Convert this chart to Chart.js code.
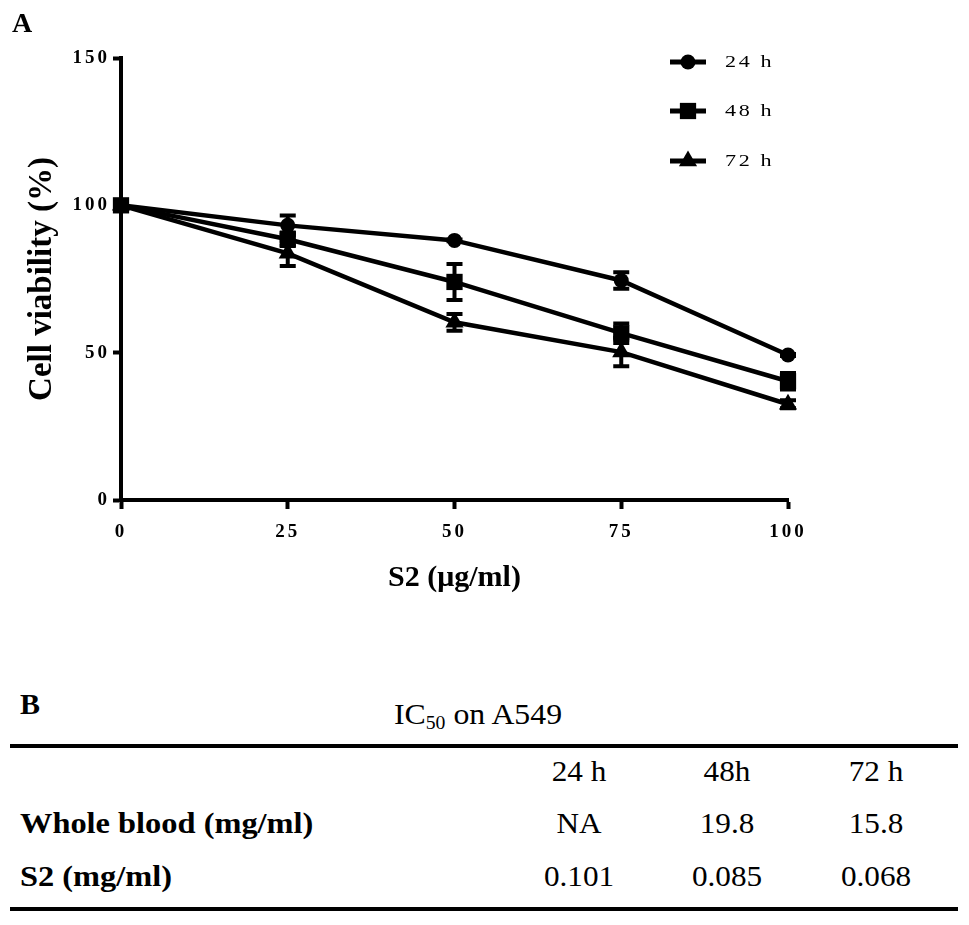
<!DOCTYPE html>
<html><head><meta charset="utf-8">
<script src="https://cdn.jsdelivr.net/npm/chart.js@4"></script>
<style>
html,body{margin:0;padding:0;background:#fff;}
#wrap{position:relative;width:969px;height:925px;overflow:hidden;font-family:'Liberation Serif','Times New Roman',serif;color:#000;}
canvas{position:absolute;left:0;top:0;}
.t{position:absolute;white-space:nowrap;line-height:1;}
.rule{position:absolute;left:10px;width:948px;height:4px;background:#000;}
sub{font-size:62%;vertical-align:baseline;position:relative;top:0.25em;}
</style></head>
<body><div id="wrap"><canvas id="c" width="969" height="640"></canvas></div>
<script>
// ---- Panel A data ----
const doses = [0, 25, 50, 75, 100];
const seriesLabels = ['24 h', '48 h', '72 h'];
const viability24 = [100, 93.2, 88.1, 74.5, 49.2];
const viability48 = [100, 88.5, 74.0, 56.6, 40.3];
const viability72 = [100, 83.7, 60.3, 50.2, 32.5];
const sem24 = [0, 4.0, 1.0, 3.5, 1.0];
const sem48 = [0, 3.0, 6.8, 4.0, 3.5];
const sem72 = [0, 5.0, 3.5, 5.5, 2.0];
const xTicks = [0, 25, 50, 75, 100];
const yTicks = [0, 50, 100, 150];
const markerStyles = ['circle', 'rect', 'triangle'];

// ---- Panel B data ----
const tableTitle = 'IC<sub>50</sub> on A549';
const tableCols = ['24 h', '48h', '72 h'];
const tableRowLabels = ['Whole blood (mg/ml)', 'S2 (mg/ml)'];
const wholeBloodIC50 = ['NA', '19.8', '15.8'];
const s2IC50 = ['0.101', '0.085', '0.068'];

const allValues = [viability24, viability48, viability72];
const allErr = [sem24, sem48, sem72];
const radii = {circle: 7.5, rect: 11.5, triangle: 10.5};

function drawMarker(ctx, style, x, y) {
  const r = radii[style];
  ctx.beginPath();
  if (style === 'circle') ctx.arc(x, y, r, 0, Math.PI * 2);
  else if (style === 'rect') { const s = r * Math.SQRT1_2; ctx.rect(x - s, y - s, 2 * s, 2 * s); }
  else {
    let a = 0;
    ctx.moveTo(x + Math.sin(a) * r, y - Math.cos(a) * r);
    a += 2 * Math.PI / 3; ctx.lineTo(x + Math.sin(a) * r, y - Math.cos(a) * r);
    a += 2 * Math.PI / 3; ctx.lineTo(x + Math.sin(a) * r, y - Math.cos(a) * r);
    ctx.closePath();
  }
  ctx.fill();
}

const figPlugin = {
  id: 'fig',
  beforeDraw(chart) { chart.ctx.letterSpacing = '0px'; },
  afterDatasetsDraw(chart) {
    const ctx = chart.ctx, xs = chart.scales.x, ys = chart.scales.y;
    ctx.save();
    ctx.strokeStyle = '#000'; ctx.lineWidth = 4; ctx.lineCap = 'butt';
    allValues.forEach((vals, si) => {
      vals.forEach((v, i) => {
        const e = allErr[si][i];
        if (!e) return;
        const px = xs.getPixelForValue(doses[i]);
        const t = ys.getPixelForValue(v + e), b = ys.getPixelForValue(v - e);
        ctx.beginPath();
        ctx.moveTo(px, t); ctx.lineTo(px, b);
        ctx.moveTo(px - 8, t + 2); ctx.lineTo(px + 8, t + 2);
        ctx.moveTo(px - 8, b - 2); ctx.lineTo(px + 8, b - 2);
        ctx.stroke();
      });
    });
    ctx.restore();
    ctx.letterSpacing = '3px';
  },
  afterDraw(chart) {
    const ctx = chart.ctx;
    ctx.save();
    ctx.fillStyle = '#000'; ctx.strokeStyle = '#000';
    const ly = [62, 111, 161];
    seriesLabels.forEach((lab, i) => {
      ctx.lineWidth = 5;
      ctx.beginPath(); ctx.moveTo(670, ly[i]); ctx.lineTo(706, ly[i]); ctx.stroke();
      drawMarker(ctx, markerStyles[i], 688, ly[i]);
      ctx.save();
      ctx.letterSpacing = '2px';
      ctx.font = '17px "Liberation Serif"';
      ctx.textBaseline = 'middle'; ctx.textAlign = 'left';
      ctx.translate(725, ly[i] + 1); ctx.scale(1.3, 1);
      ctx.fillText(lab, 0, 0);
      ctx.restore();
    });
    ctx.letterSpacing = '0px';
    ctx.font = 'bold 28px "Liberation Serif"';
    ctx.textBaseline = 'middle'; ctx.textAlign = 'left';
    ctx.fillText('A', 12, 25);
    ctx.restore();
    ctx.letterSpacing = '0px';
  }
};

const datasets = allValues.map((vals, i) => ({
  label: seriesLabels[i],
  data: vals.map((v, j) => ({x: doses[j], y: v})),
  borderColor: '#000', backgroundColor: '#000', borderWidth: 4.5,
  pointStyle: markerStyles[i], pointRadius: radii[markerStyles[i]],
  pointBorderWidth: 0, pointBackgroundColor: '#000', tension: 0, clip: false
}));

new Chart(document.getElementById('c'), {
  type: 'line',
  data: {datasets},
  options: {
    responsive: false, animation: false, devicePixelRatio: 1,
    layout: {padding: {left: 0, right: 181, top: 58, bottom: 0}},
    plugins: {legend: {display: false}, tooltip: {enabled: false}},
    scales: {
      x: {
        type: 'linear', min: 0, max: 100,
        afterBuildTicks: s => { s.ticks = xTicks.map(v => ({value: v})); },
        afterFit: s => { s.height = 140; },
        grid: {drawOnChartArea: false, drawTicks: true, tickLength: 9, tickWidth: 4, color: '#000'},
        border: {display: true, width: 4, color: '#000'},
        ticks: {z: 1, padding: 12, color: '#000', font: {family: 'Liberation Serif', size: 19, weight: 'bold'}, maxRotation: 0},
        title: {display: true, text: 'S2 (μg/ml)', color: '#000', padding: {top: 0, bottom: 44},
          font: {family: 'Liberation Serif', size: 30, weight: 'bold'}}
      },
      y: {
        min: 0, max: 150,
        afterBuildTicks: s => { s.ticks = yTicks.map(v => ({value: v})); },
        afterFit: s => { s.width = 121; },
        grid: {drawOnChartArea: false, drawTicks: true, tickLength: 8, tickWidth: 4, color: '#000'},
        border: {display: true, width: 4, color: '#000'},
        ticks: {z: 1, padding: 3, color: '#000', font: {family: 'Liberation Serif', size: 19, weight: 'bold'}},
        title: {display: true, text: 'Cell viability (%)', color: '#000', padding: {top: 23, bottom: 0},
          font: {family: 'Liberation Serif', size: 33, weight: 'bold'}}
      }
    }
  },
  plugins: [figPlugin]
});

// ---- Panel B table (HTML) ----
const wrap = document.getElementById('wrap');
function place(html, x, y, size, bold, align, sx) {
  const d = document.createElement('div');
  d.className = 't';
  d.innerHTML = html;
  d.style.fontSize = size + 'px';
  d.style.fontWeight = bold ? 'bold' : 'normal';
  d.style.left = x + 'px'; d.style.top = y + 'px';
  d.style.transformOrigin = align === 'left' ? 'left center' : 'center center';
  d.style.transform = (align === 'left' ? 'translate(0,-50%)' : 'translate(-50%,-50%)') + ' scaleX(' + sx + ')';
  wrap.appendChild(d);
}
function rule(y) { const r = document.createElement('div'); r.className = 'rule'; r.style.top = y + 'px'; wrap.appendChild(r); }
place('B', 20, 704, 30, true, 'left', 1);
place(tableTitle, 478, 714, 30, false, 'center', 1.06);
rule(744);
const colX = [579, 727, 876];
tableCols.forEach((c, i) => place(c, colX[i], 771, 30, false, 'center', 1.04));
const rowY = [823, 876];
const rowVals = [wholeBloodIC50, s2IC50];
tableRowLabels.forEach((lab, r) => {
  place(lab, 20, rowY[r], 30, true, 'left', 1.08);
  rowVals[r].forEach((v, i) => place(v, colX[i], rowY[r], 30, false, 'center', 1.04));
});
rule(907);
</script>
</body></html>
